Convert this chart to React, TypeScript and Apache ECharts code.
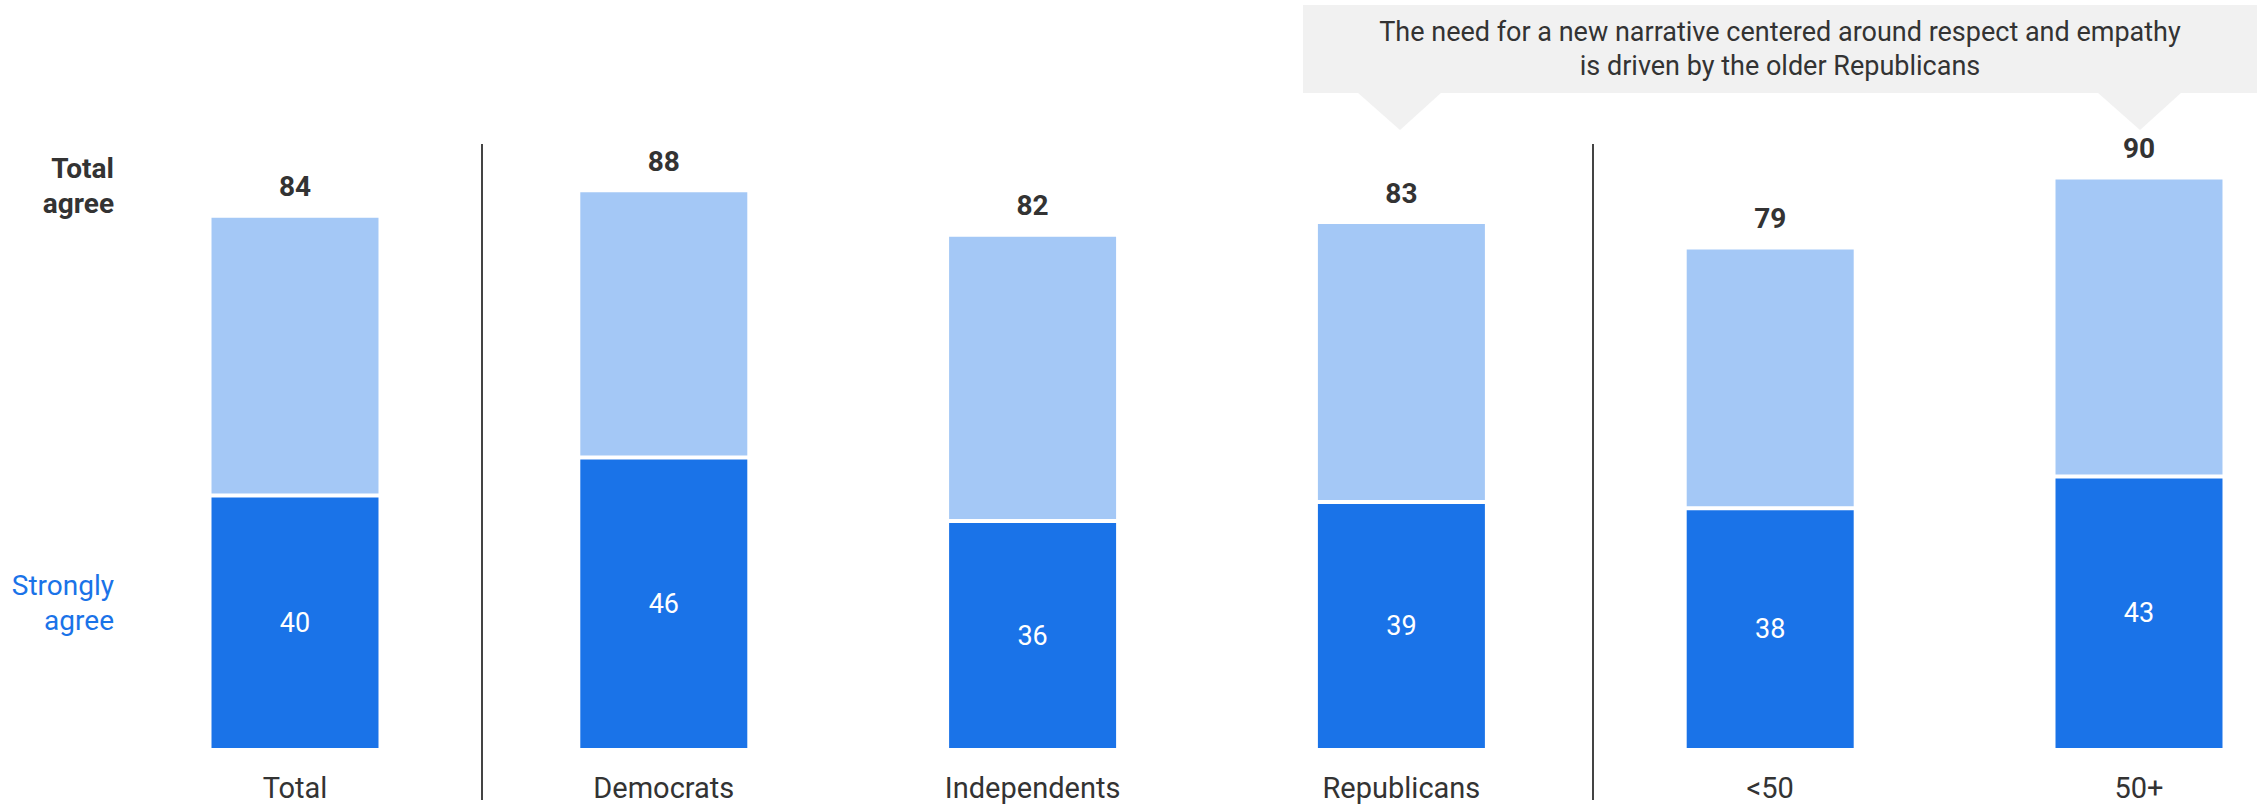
import React, { useEffect, useRef } from "react";
import * as echarts from "echarts";

const categories = ["Total", "Democrats", "Independents", "Republicans", "<50", "50+"];
// Dark segment: "Strongly agree"
const stronglyAgree = [40, 46, 36, 39, 38, 43];
// Printed "Total agree" labels
const totalAgreeLabels = [84, 88, 82, 83, 79, 90];
// Bar tops as drawn in the picture (Independents is drawn at ~81)
const totalAgreeDrawn = [84, 88, 81, 83, 79, 90];
const calloutLines = [
  "The need for a new narrative centered around respect and empathy",
  "is driven by the older Republicans",
];

const FONT = "Roboto, 'Noto Sans', sans-serif";
const DARK = "#1a73e8";
const LIGHT = "#a4c8f6";
const TEXT = "#333333";

export default function App() {
  const ref = useRef<HTMLDivElement>(null);

  useEffect(() => {
    if (!ref.current) return;
    const chart = echarts.init(ref.current, undefined, { renderer: "svg" });
    const rest = totalAgreeDrawn.map((t, i) => t - stronglyAgree[i]);

    const option: any = {
      animation: false,
      backgroundColor: "#ffffff",
      textStyle: { fontFamily: FONT },
      grid: { left: 295, right: 118, top: 114, bottom: 55, containLabel: false },
      xAxis: {
        type: "category",
        data: categories,
        boundaryGap: false,
        axisLine: { show: false },
        axisTick: { show: false },
        axisLabel: {
          color: TEXT,
          fontSize: 29,
          fontFamily: FONT,
          margin: 23,
          verticalAlign: "top",
        },
      },
      yAxis: {
        type: "value",
        min: 0,
        max: 100,
        show: false,
        splitLine: { show: false },
      },
      series: [
        {
          name: "Strongly agree",
          type: "bar",
          stack: "a",
          data: stronglyAgree,
          barWidth: 171,
          itemStyle: { color: DARK, borderColor: "#ffffff", borderWidth: 2 },
          label: {
            show: true,
            position: "inside",
            color: "#ffffff",
            fontSize: 27,
            fontFamily: FONT,
          },
        },
        {
          name: "Total agree",
          type: "bar",
          stack: "a",
          data: rest,
          barWidth: 171,
          itemStyle: { color: LIGHT, borderColor: "#ffffff", borderWidth: 2 },
          label: {
            show: true,
            position: "top",
            distance: 15,
            color: TEXT,
            fontSize: 28,
            fontWeight: "bold",
            fontFamily: FONT,
            formatter: (p: any) => String(totalAgreeLabels[p.dataIndex]),
          },
        },
      ],
      graphic: [
        {
          type: "text",
          x: 114,
          y: 186,
          style: {
            text: "Total\nagree",
            fill: TEXT,
            font: `bold 28px ${FONT}`,
            align: "right",
            verticalAlign: "middle",
            lineHeight: 35,
          },
        },
        {
          type: "text",
          x: 114,
          y: 603,
          style: {
            text: "Strongly\nagree",
            fill: DARK,
            font: `28px ${FONT}`,
            align: "right",
            verticalAlign: "middle",
            lineHeight: 35,
          },
        },
        {
          type: "line",
          shape: { x1: 482, y1: 144, x2: 482, y2: 800 },
          style: { stroke: "#444444", lineWidth: 2 },
        },
        {
          type: "line",
          shape: { x1: 1593, y1: 144, x2: 1593, y2: 800 },
          style: { stroke: "#444444", lineWidth: 2 },
        },
        {
          type: "rect",
          shape: { x: 1303, y: 5, width: 954, height: 88 },
          style: { fill: "#f1f1f1" },
        },
        {
          type: "polygon",
          shape: { points: [[1357, 92], [1442, 92], [1400, 130]] },
          style: { fill: "#f1f1f1" },
        },
        {
          type: "polygon",
          shape: { points: [[2097, 92], [2182, 92], [2140, 130]] },
          style: { fill: "#f1f1f1" },
        },
        {
          type: "text",
          x: 1780,
          y: 32,
          style: {
            text: calloutLines[0],
            fill: TEXT,
            font: `27px ${FONT}`,
            align: "center",
            verticalAlign: "middle",
          },
        },
        {
          type: "text",
          x: 1780,
          y: 66,
          style: {
            text: calloutLines[1],
            fill: TEXT,
            font: `27px ${FONT}`,
            align: "center",
            verticalAlign: "middle",
          },
        },
      ],
    };
    chart.setOption(option);
    return () => chart.dispose();
  }, []);

  return (
    <div
      ref={ref}
      style={{ position: "fixed", left: 0, top: 0, width: 2257, height: 805, background: "#fff" }}
    />
  );
}
